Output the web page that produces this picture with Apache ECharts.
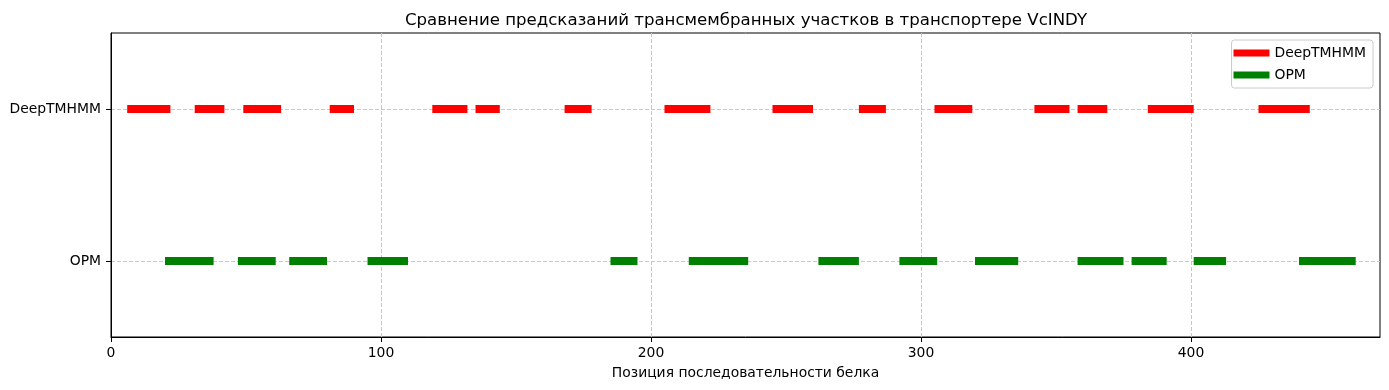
<!DOCTYPE html>
<html>
<head>
<meta charset="utf-8">
<script src="https://cdn.jsdelivr.net/npm/echarts@6/dist/echarts.min.js"></script>
<style>html,body{margin:0;padding:0;background:#fff}#c{width:1389px;height:390px}</style>
</head>
<body>
<div id="c"></div>
<script>
const title = 'Сравнение предсказаний трансмембранных участков в транспортере VcINDY';
const xLabel = 'Позиция последовательности белка';
const categories = ['OPM', 'DeepTMHMM'];
const deepTMHMM = [[6,22],[31,42],[49,63],[81,90],[119,132],[135,144],[168,178],[205,222],[245,260],[277,287],[305,319],[342,355],[358,369],[384,401],[425,444]];
const opm = [[20,38],[47,61],[66,80],[95,110],[185,195],[214,236],[262,277],[292,306],[320,336],[358,375],[378,391],[401,413],[440,461]];
const xTicks = [0,100,200,300,400];

const font = 'DejaVu Sans';
function seg(name, arr, yi, color) {
  return {
    type: 'custom', name: name, itemStyle: {color: color},
    encode: {x: [0,1], y: 2},
    data: arr.map(d => [d[0], d[1], yi]),
    renderItem: function (params, api) {
      const s = api.coord([api.value(0), api.value(2)]);
      const e = api.coord([api.value(1), api.value(2)]);
      return {type: 'rect', shape: {x: s[0], y: s[1] - 4, width: e[0] - s[0], height: 8}, style: {fill: color}};
    }
  };
}
const chart = echarts.init(document.getElementById('c'), null, {renderer: 'canvas'});
chart.setOption({
  animation: false,
  textStyle: {fontFamily: font},
  title: {text: title, left: 741, textAlign: 'center', top: 7,
    textStyle: {fontFamily: font, fontSize: 16.6, fontWeight: 'normal', color: '#000'}},
  legend: {
    orient: 'vertical', right: 16, top: 40, itemWidth: 36, itemHeight: 7, itemGap: 8,
    padding: [6, 7, 6, 2], borderColor: '#cccccc', borderWidth: 1, borderRadius: 3,
    backgroundColor: '#fff', icon: 'rect',
    textStyle: {fontFamily: font, fontSize: 13.9, color: '#000'},
    data: ['DeepTMHMM', 'OPM']
  },
  grid: {left: 111, right: 9, top: 33, bottom: 53, show: true, borderColor: '#000', borderWidth: 1, containLabel: false},
  xAxis: {
    type: 'value', min: 0, max: 470, interval: 100,
    name: xLabel, nameLocation: 'middle', nameGap: 29,
    nameTextStyle: {fontFamily: font, fontSize: 13.9, color: '#000'},
    axisLine: {show: true, onZero: false, lineStyle: {color: '#000'}},
    axisTick: {show: true, length: 5, lineStyle: {color: '#000'}, customValues: xTicks},
    axisLabel: {color: '#000', fontSize: 13.9, fontFamily: font, margin: 9, customValues: xTicks},
    splitLine: {show: true, lineStyle: {color: '#c8c8c8', type: [4, 2], width: 1}}
  },
  yAxis: {
    type: 'value', min: -0.5, max: 1.5,
    axisLine: {show: true, onZero: false, lineStyle: {color: '#000'}},
    axisTick: {show: true, length: 5, lineStyle: {color: '#000'}, customValues: [0, 1]},
    axisLabel: {color: '#000', fontSize: 13.9, fontFamily: font, margin: 10, customValues: [0, 1],
      formatter: v => categories[Math.round(v)]},
    splitLine: {show: true, lineStyle: {color: '#c8c8c8', type: [4, 2], width: 1}}
  },
  series: [
    seg('DeepTMHMM', deepTMHMM, 1, '#ff0000'),
    seg('OPM', opm, 0, '#008000')
  ]
});
</script>
</body>
</html>
